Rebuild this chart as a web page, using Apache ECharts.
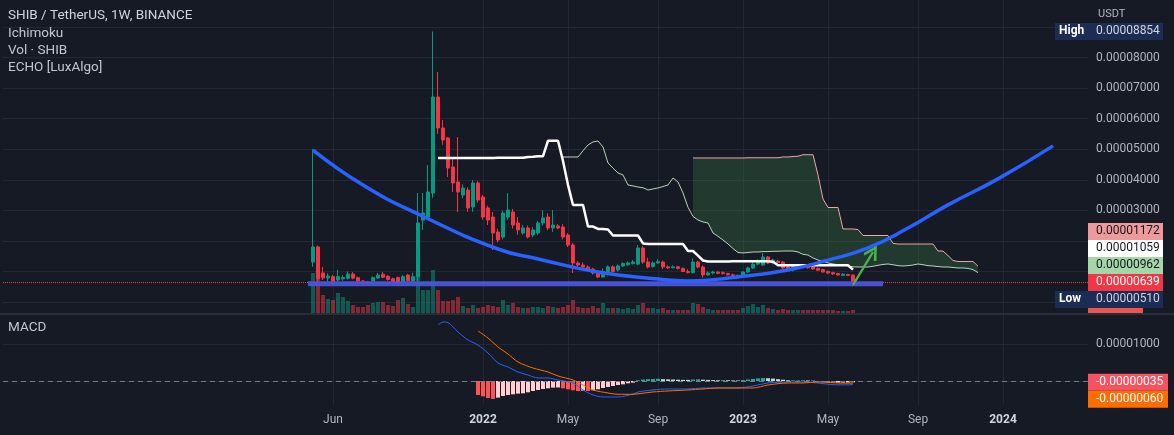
<!DOCTYPE html>
<html><head><meta charset="utf-8">
<script src="https://cdn.jsdelivr.net/npm/echarts@6/dist/echarts.min.js"></script>
<style>html,body{margin:0;padding:0;background:#161a25;}#c{width:1174px;height:435px;}</style>
</head><body><div id="c"></div>
<script>
// ---------------- DATA (prices in 1e-8 USDT) ----------------
const firstWeek = Date.UTC(2021, 4, 10);   // first weekly candle (Mon 10 May 2021)
const leadSlots = 62;                       // empty weekly slots left of the first candle
const totalSlots = 218;                     // weekly slots across the visible range

const opens = [1309,1800,950,786,830,720,760,776,917,795,
 687,650,687,786,910,840,760,800,660,880,
 690,830,2684,2782,3568,6710,5696,5368,4419,3928,
 3500,3666,3110,3895,3437,3077,2782,2291,2128,2782,
 2946,2586,2259,2422,2193,2259,2586,2782,2422,2490,
 2455,2193,1866,1277,1211,1146,1080,949,818,1000,
 1150,1050,1180,1220,1260,1240,1768,1309,1160,1280,
 1309,1150,1120,1150,1100,1000,960,1309,1146,884,
 949,980,960,930,890,870,820,982,1113,1240,
 1211,1473,1277,1340,1309,1146,1047,1120,1180,1170,
 1146,1100,1060,1000,960,930,870,900,884];
const closes = [1800,760,790,851,665,830,800,917,780,687,
 622,610,795,880,810,740,660,620,830,700,
 830,2586,2913,3601,6710,5696,5303,4386,3895,3601,
 3732,3077,3895,3339,2782,2684,2259,2029,2913,3011,
 2520,2357,2422,2128,2357,2586,2750,2422,2520,2422,
 2128,1866,1277,1211,1146,1080,949,818,1000,1150,
 1000,1180,1260,1280,1310,1768,1309,1146,1280,1320,
 1150,1120,1150,1100,1000,960,1309,1146,884,949,
 980,940,930,890,860,820,982,1113,1240,1309,
 1473,1277,1375,1290,1113,1047,1160,1200,1146,1120,
 1080,1040,982,949,917,884,910,870,639];
const lows = [1150,620,720,665,570,610,700,740,740,650,
 600,580,650,760,780,700,620,590,640,650,
 680,690,2357,2700,3400,5500,5150,4092,3600,2946,
 3400,2950,2950,3250,2700,2520,1702,1950,2050,2700,
 2400,2200,2200,2080,2120,2200,2500,2350,2291,2380,
 2050,1800,949,1150,1100,1040,900,786,800,950,
 970,1000,1150,1180,1230,1200,1250,1100,1120,1240,
 1080,1080,1100,1060,980,940,940,1100,800,860,
 900,910,900,870,840,800,800,950,1080,1200,
 1180,1240,1230,1260,1080,1000,1000,1090,1120,1090,
 1050,1010,960,920,890,860,850,850,510];
const highs = [5008,1850,1146,940,890,1050,880,1000,980,830,
 720,690,840,950,980,880,800,830,880,920,
 960,3568,3568,4484,8854,7529,5957,5401,4750,5401,
 3850,3750,3993,3960,3500,3150,2946,2400,2990,3568,
 3050,2782,2520,2500,2450,2650,3011,2900,3011,2550,
 2550,2250,1931,1340,1300,1200,1120,980,1100,1200,
 1200,1230,1300,1330,1380,1866,1830,1450,1330,1400,
 1350,1200,1200,1180,1130,1070,1420,1350,1200,1000,
 1020,1010,1000,960,930,900,1000,1150,1350,1400,
 1604,1500,1420,1380,1340,1180,1200,1240,1220,1200,
 1170,1130,1090,1030,990,960,940,920,900];
// weekly volume (relative units)
const volumes = [40,38,18,14,13,20,16,12,8,6, 6,8,10,11,11,8,7,13,15,9,
 6,36,23,23,43,23,12,12,13,16, 7,5,8,5,6,8,7,6,13,8,
 10,6,5,5,6,6,5,7,6,5, 6,8,13,6,5,5,7,5,10,5,
 5,5,4,5,4,8,10,5,5,4, 5,3,3,3,3,3,10,9,6,4,
 3,3,3,3,3,3,5,7,9,6, 8,5,4,3,4,3,3,3,3,3,
 3,3,3,3,3,2,2,2,3];

// Ichimoku (bar index of first value, then one value per bar)
const kijunStart = 25;
const kijun = [4712,4712,4712,4712,4712, 4717,4717,4717,4717,4717,4717,4717,
 4722,4722,4722,4722,4722,4722, 4747,4752,4767,4772, 5278,5278,5278,
 4615,3830,3175,3175,3175,2471,2471,2390,2390,2373,
 2177,2177,2177,2177,2177,2177,1918,1898,1898,1898,1898,1898,1898,1898,1898,
 1668,1668,1518,1358,1326,1326,1326,1326,1326,
 1333,1333,1333,1333,1333,1333,1333,1333,1315,
 1202,1202,1202,1202,1202,1202,1202,1202,1202,1202,1202,1202,1202,1202,1202,1059];
const spanAStart = 50;
const spanA = [4746,4746,4746,4746,4950,5139,5240,5270,5074,4550,
 4380,4223,4157,3830,3800,3764,3740,3666,3700,3732,
 3780,3830,4059,3928,3568,3100,2800,2684,2620,2586,
 2259,2150,2029,1900,1750,1620,1604,1620,1637,1637,
 1650,1650,1660,1660,1669,1669,1669,1637,1560,1538,
 1440,1375,1330,1277,1244,1220,1211,1180,1150,1146,
 1146,1146,1170,1200,1230,1244,1220,1190,1178,1190,
 1211,1244,1220,1190,1178,1160,1146,1146,1130,1113,
 1113,1100,1060,962];
const spanBStart = 76;
const spanB = [4714,4714,4714,4714,4714,4714,4714,4714,4714,4714,4714,
 4722,4722,4722,4722,4722,4722,4722, 4747,4747,4762,4772, 4820,4820,4820,
 4157,3371,3093,3093,3093,2390,2390,2390,2373,
 2177,2177,2177,2177,2177,2177,1918,
 1898,1898,1898,1898,1898,1898,1898,1898,
 1668,1668,1518,1358,1326,1326,1326,1326,1172];

// ECHO [LuxAlgo] projection curve: [bar index, price]
const echoCurve = [[0,4975],[10,3830],[21,2880],[37,1735],[45,1410],[57,980],[69,750],
 [75,690],[85,820],[95,1050],[103,1370],[111,1770],[119,2420],[127,3180],[137,4030],[148,5110]];
const echoLevel = 600, echoLevelFrom = -1, echoLevelTo = 114;
const arrowFrom = [108, 556], arrowTo = [112, 1637];

// MACD pane (values in 1e-8 USDT)
const macdLine = [[25,1514],[26,1595],[27,1580],[29,1324],[31,1108],[33,973],[35,757],[37,486],
 [39,378],[41,243],[43,162],[45,81],[47,81],[49,27],[52,-54],[54,-243],[56,-378],[58,-432],
 [61,-432],[64,-351],[65,-297],[68,-243],[71,-216],[75,-216],[78,-189],[81,-189],[85,-189],
 [88,-135],[91,-54],[95,-27],[98,-27],[101,-54],[104,-100],[107,-105],[108,-95]];
const signalLine = [[33,1351],[35,1162],[37,919],[39,730],[41,514],[44,351],[47,243],[49,135],
 [52,27],[54,-108],[56,-243],[59,-324],[61,-360],[64,-360],[66,-330],[68,-297],[71,-270],[75,-243],
 [78,-216],[81,-189],[85,-189],[88,-189],[91,-108],[95,-54],[98,-54],[101,-27],[105,-54],[108,-60]];
const histStart = 33;
const hist = [-378,-414,-459,-486,-450,-405,-378,-360,-342,-333,-306,-270,-243,-216,-198,-180,
 -175,-198,-225,-252,-270,-261,-270,-252,-225,-189,-162,-135,-108,-90,-63,-45,
 20,40,50,55,60,50,45,40,35,30,30,40,45,35,30,25,20,25,20,15,15,25,40,55,70,80,75,65,50,35,
 20,10,15,20,15,10,-15,-30,-40,-46,-45,-42,-40,-35];

const timeTicks = [['2021-06-07','Jun'],['2022-01-03','2022'],['2022-05-02','May'],['2022-09-05','Sep'],
 ['2023-01-02','2023'],['2023-05-01','May'],['2023-09-04','Sep'],['2024-01-01','2024']];

// ---------------- BUILD ----------------
const WEEK = 7 * 864e5;
const weeks = Array.from({length: totalSlots}, (_, k) =>
  new Date(firstWeek + (k - leadSlots) * WEEK).toISOString().slice(0, 10));
const slot = i => leadSlots + i;
const tickLabel = Object.fromEntries(timeTicks);
const showTick = (idx, val) => tickLabel[val] !== undefined;
const fmt = v => (v / 1e8).toFixed(8);
const FONT = 'Roboto';
const UP = '#089981', DN = '#f23645';
const GRID = '#232734';

const candleData = opens.map((o, i) => [slot(i), o, closes[i], lows[i], highs[i]]);
const volData = volumes.map((v, i) => ({value: [slot(i), v],
  itemStyle: {color: closes[i] >= opens[i] ? 'rgba(8,153,129,0.5)' : 'rgba(242,54,69,0.5)'}}));
const seq = (start, arr) => arr.map((v, k) => [slot(start + k), v]);
const offB = spanBStart - spanAStart;
const cloudBase = spanB.map((b, k) => [slot(spanBStart + k), spanA[offB + k]]);
const cloudBand = spanB.map((b, k) => [slot(spanBStart + k), b - spanA[offB + k]]);
const histData = hist.map((v, k) => {
  const p = k > 0 ? hist[k - 1] : v;
  const c = v >= 0 ? (v > p ? '#26a69a' : '#b2dfdb') : (v > p ? '#ffcdd2' : '#ff5252');
  return {value: [slot(histStart + k), v], itemStyle: {color: c}};
});

const chart = echarts.init(document.getElementById('c'), null, {width: 1174, height: 435});
const catAxis = {type: 'category', data: weeks, boundaryGap: false,
  axisLine: {show: false}, axisTick: {show: false}};
const gridBase = {left: 3, width: 1085, containLabel: false, outerBoundsMode: 'none'};
const noSym = {symbol: 'none', showSymbol: false};

chart.setOption({
  backgroundColor: '#161a25',
  animation: false,
  grid: [
    Object.assign({top: 0, height: 313}, gridBase),
    Object.assign({top: 230, height: 83}, gridBase),
    Object.assign({top: 315, height: 90}, gridBase)
  ],
  xAxis: [
    Object.assign({}, catAxis, {gridIndex: 0, axisLabel: {show: false},
      splitLine: {show: true, interval: showTick, lineStyle: {color: GRID}}}),
    Object.assign({}, catAxis, {gridIndex: 1, show: false}),
    Object.assign({}, catAxis, {gridIndex: 2,
      axisLabel: {interval: showTick, margin: 9, color: '#b2b5be', fontSize: 12, fontFamily: FONT,
        formatter: v => { const l = tickLabel[v] || ''; return /^\d{4}$/.test(l) ? '{y|' + l + '}' : l; },
        rich: {y: {color: '#d1d4dc', fontSize: 12, fontFamily: FONT, fontWeight: 'bold'}}},
      splitLine: {show: true, interval: showTick, lineStyle: {color: GRID}}})
  ],
  yAxis: [
    {type: 'value', gridIndex: 0, position: 'right', min: -360, max: 9885, splitNumber: 10,
      minInterval: 1000, maxInterval: 1000, axisLine: {show: false}, axisTick: {show: false},
      axisLabel: {margin: 8, color: '#b2b5be', fontSize: 12, fontFamily: FONT,
        formatter: v => (v >= 3000 && v <= 8000) ? fmt(v) : ''},
      splitLine: {show: true, showMinLine: false, showMaxLine: false, lineStyle: {color: GRID}}},
    {type: 'value', gridIndex: 1, min: 0, max: 83, show: false, splitLine: {show: false}},
    {type: 'value', gridIndex: 2, position: 'right', min: -649, max: 1784, splitNumber: 2,
      minInterval: 1000, maxInterval: 1000, axisLine: {show: false}, axisTick: {show: false},
      axisLabel: {margin: 8, color: '#b2b5be', fontSize: 12, fontFamily: FONT,
        formatter: v => v === 1000 ? fmt(v) : ''},
      splitLine: {show: true, showMinLine: false, showMaxLine: false, lineStyle: {color: GRID}}}
  ],
  series: [
    {name: 'Volume', type: 'bar', xAxisIndex: 1, yAxisIndex: 1, barWidth: 4, data: volData, z: 1},
    Object.assign({name: 'cloudBase', type: 'line', stack: 'cloud', data: cloudBase,
      lineStyle: {opacity: 0}, z: 2}, noSym),
    Object.assign({name: 'cloud', type: 'line', stack: 'cloud', data: cloudBand,
      lineStyle: {opacity: 0}, areaStyle: {color: 'rgba(76,175,80,0.30)'}, z: 2}, noSym),
    Object.assign({name: 'Lead 1', type: 'line', data: seq(spanAStart, spanA),
      lineStyle: {color: '#b8d4b9', width: 1}, z: 3}, noSym),
    Object.assign({name: 'Lead 2', type: 'line', data: seq(spanBStart, spanB),
      lineStyle: {color: '#e8a9a6', width: 1}, z: 3}, noSym),
    {name: 'SHIB', type: 'candlestick', data: candleData, encode: {x: 0, y: [1, 2, 3, 4]}, barWidth: 3,
      itemStyle: {color: UP, color0: DN, borderColor: UP, borderColor0: DN, borderWidth: 1}, z: 4,
      markLine: {silent: true, symbol: 'none', label: {show: false},
        lineStyle: {type: 'dotted', color: DN, width: 1},
        data: [{yAxis: closes[closes.length - 1]}]}},
    Object.assign({name: 'Base Line', type: 'line', data: seq(kijunStart, kijun),
      lineStyle: {color: '#ffffff', width: 2.5}, z: 5}, noSym),
    Object.assign({name: 'ECHO level', type: 'line',
      data: [[slot(echoLevelFrom), echoLevel], [slot(echoLevelTo), echoLevel]],
      lineStyle: {color: '#4a55db', width: 5, opacity: 0.95}, z: 6}, noSym),
    Object.assign({name: 'ECHO', type: 'line', smooth: 0.5,
      data: echoCurve.map(p => [slot(p[0]), p[1]]),
      lineStyle: {color: '#2962ff', width: 3.5}, z: 7}, noSym),
    Object.assign({name: 'arrow', type: 'line',
      data: [[slot(arrowFrom[0]), arrowFrom[1]], [slot(arrowTo[0]), arrowTo[1]]],
      lineStyle: {color: '#4caf50', width: 2}, z: 8,
      markLine: {silent: true, label: {show: false},
        symbol: ['none', 'path://M50,0 L100,88 L86,100 L50,34 L14,100 L0,88 Z'], symbolSize: [15, 15],
        lineStyle: {color: '#4caf50', width: 2, type: 'solid'},
        data: [[{coord: [slot(arrowFrom[0]), arrowFrom[1]]}, {coord: [slot(arrowTo[0]), arrowTo[1]]}]]}}, noSym),
    {name: 'Histogram', type: 'bar', xAxisIndex: 2, yAxisIndex: 2, barWidth: 4, data: histData, z: 2,
      markLine: {silent: true, symbol: 'none', label: {show: false},
        lineStyle: {type: [5, 4], color: '#787b86', width: 1}, data: [{yAxis: 0}]}},
    Object.assign({name: 'MACD', type: 'line', xAxisIndex: 2, yAxisIndex: 2, smooth: 0.3,
      data: macdLine.map(p => [slot(p[0]), p[1]]), lineStyle: {color: '#2962ff', width: 1}, z: 3}, noSym),
    Object.assign({name: 'Signal', type: 'line', xAxisIndex: 2, yAxisIndex: 2, smooth: 0.3,
      data: signalLine.map(p => [slot(p[0]), p[1]]), lineStyle: {color: '#ff6d00', width: 1}, z: 3}, noSym)
  ]
});

// ---------------- price-scale tags ----------------
function stackTags(tags, anchor, gap) {
  for (let k = anchor - 1; k >= 0; k--) tags[k].y = Math.min(tags[k].y, tags[k + 1].y - gap);
  for (let k = anchor + 1; k < tags.length; k++) tags[k].y = Math.max(tags[k].y, tags[k - 1].y + gap);
}
const py = v => chart.convertToPixel({yAxisIndex: 0}, v);
const my = v => chart.convertToPixel({yAxisIndex: 2}, v);
const last = a => a[a.length - 1];
const NAVY = '#1d2c55';
const mainTags = [
  {v: last(spanB), bg: '#ef9a9a', fg: '#131722'},
  {v: last(kijun), bg: '#ffffff', fg: '#131722'},
  {v: last(spanA), bg: '#a5d6a7', fg: '#131722'},
  {v: last(closes), bg: DN, fg: '#ffffff'},
  {v: Math.min(...lows), bg: NAVY, fg: '#d1d4dc', name: 'Low'}
].map(t => Object.assign(t, {y: py(t.v)}));
stackTags(mainTags, 3, 17);
const macdTags = [
  {v: last(hist), bg: '#f7525f', fg: '#ffffff', w: 80},
  {v: last(signalLine)[1], bg: '#ff6d00', fg: '#ffffff', w: 80}
].map(t => Object.assign(t, {y: my(t.v)}));
stackTags(macdTags, 0, 17);
const highTag = {v: Math.max(...highs), bg: NAVY, fg: '#d1d4dc', name: 'High', y: py(Math.max(...highs))};

const g = [];
function addTag(t) {
  const w = t.w || 75;
  if (t.name) {
    g.push({type: 'rect', shape: {x: 1055, y: t.y - 8.5, width: 33, height: 17}, style: {fill: t.bg}, z: 100});
    g.push({type: 'text', style: {text: t.name, x: 1059, y: t.y, fill: '#ffffff',
      font: 'bold 12px ' + FONT, verticalAlign: 'middle'}, z: 101});
  }
  g.push({type: 'rect', shape: {x: 1088, y: t.y - 8.5, width: w, height: 17}, style: {fill: t.bg}, z: 100});
  g.push({type: 'text', style: {text: fmt(t.v), x: 1096, y: t.y, fill: t.fg,
    font: '12px ' + FONT, verticalAlign: 'middle'}, z: 101});
}
mainTags.forEach(addTag); macdTags.forEach(addTag); addTag(highTag);
// pane separator and truncated volume tag
g.push({type: 'rect', shape: {x: 0, y: 313, width: 1174, height: 2}, style: {fill: '#2a2e39'}, z: 99});
g.push({type: 'rect', shape: {x: 1088, y: 308, width: 55, height: 5}, style: {fill: '#ef5350'}, z: 98});
const texts = [
  ['SHIB / TetherUS, 1W, BINANCE', 8, 16, '#d1d4dc'],
  ['Ichimoku', 8, 33.5, '#c3c6ce'],
  ['Vol · SHIB', 8, 50.5, '#c3c6ce'],
  ['ECHO [LuxAlgo]', 8, 67.5, '#c3c6ce'],
  ['MACD', 8, 328, '#c3c6ce']
];
texts.forEach(t => g.push({type: 'text', style: {text: t[0], x: t[1], y: t[2], fill: t[3],
  font: '13.5px ' + FONT, verticalAlign: 'middle'}, z: 101}));
g.push({type: 'text', style: {text: 'USDT', x: 1098, y: 14, fill: '#b2b5be', font: '11px ' + FONT,
  verticalAlign: 'middle'}, z: 101});
chart.setOption({graphic: g});
</script></body></html>
